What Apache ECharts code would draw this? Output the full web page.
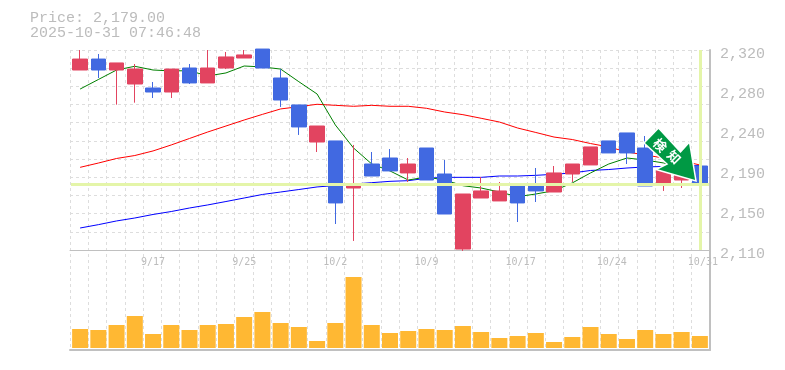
<!DOCTYPE html>
<html><head><meta charset="utf-8">
<style>html,body{margin:0;padding:0;background:#fff}#c{width:785px;height:370px}</style>
<script src="https://cdn.jsdelivr.net/npm/echarts@6/dist/echarts.min.js"></script>
</head><body><div id="c"></div>
<script>
const categories=['9/10','9/11','9/12','9/16','9/17','9/18','9/19','9/22','9/24','9/25','9/26','9/29','9/30','10/1','10/2','10/3','10/6','10/7','10/8','10/9','10/10','10/14','10/15','10/16','10/17','10/20','10/21','10/22','10/23','10/24','10/27','10/28','10/29','10/30','10/31'];
const opens=[2299,2310.5,2299,2284.3,2280.1,2275.9,2301.1,2285.4,2301.1,2311.6,2321,2290.6,2262.3,2223.4,2224.5,2175.1,2200.3,2206.6,2190.9,2217.1,2189.8,2111,2164.6,2161.5,2178.3,2177.2,2170.9,2189.8,2199.3,2224.5,2232.9,2217.1,2179.3,2183.5,2198.2];
const closes=[2310.5,2299,2306.4,2300,2275.9,2300,2285.4,2301.1,2312.7,2314.8,2301.1,2267.5,2239.2,2240.2,2159.4,2177.2,2187.7,2193,2200.3,2183.5,2147.8,2168.8,2172,2172,2159.4,2172,2190.9,2200.3,2218.2,2211.9,2211.9,2177.2,2194,2196.1,2179];
const lows=[2299,2290.6,2262.6,2264.7,2269.6,2269.6,2284.3,2285.4,2300,2311.6,2301.1,2260.2,2230.8,2212.9,2137.3,2119.5,2187.7,2193,2181.4,2183.5,2147.8,2109,2164.6,2161.5,2139.4,2160.4,2170.9,2181.4,2199.3,2211.9,2200.3,2177.2,2172,2175.1,2177.2];
const highs=[2320,2315.8,2306.4,2305.3,2286.4,2300,2305.3,2320,2317.9,2320,2321,2300,2262.3,2240.2,2224.5,2220.3,2212.9,2216,2206.6,2217.1,2204.5,2168.8,2186.6,2181.4,2178.3,2196.1,2198.2,2200.3,2218.2,2224.5,2232.9,2229.7,2197,2200,2198.2];
const maShort=[2279,2289,2299,2302.9,2299,2298,2298.3,2292.7,2295.9,2303.2,2302.2,2300,2286.7,2273.8,2241.3,2217.1,2200.3,2193,2183.5,2186.6,2183.5,2177.5,2175.1,2170.9,2166,2168.8,2172.3,2180.4,2190.9,2200.3,2206.6,2204.5,2201.4,2197.2,2191.9];
const maMid=[2196.8,2201.3,2206.1,2209.2,2214,2220.3,2227.1,2233.9,2240.2,2246.5,2252.4,2258.1,2260.5,2263,2261.9,2260.9,2261.9,2260.9,2260.9,2258.8,2254.9,2252.1,2248.3,2244.4,2238.1,2233.4,2228.6,2226,2221.8,2218.2,2212.9,2209.8,2206.6,2203.5,2199.3];
const maLong=[2133.1,2136.6,2140.5,2143.6,2147.3,2150.4,2154.1,2157.3,2160.9,2164.6,2168.3,2170.9,2173.5,2176.2,2177.7,2179.3,2180.7,2182.1,2182.8,2185.3,2186.3,2186.3,2186.3,2187.7,2187.7,2188.4,2189.5,2190.9,2193.5,2194.5,2196.1,2197.2,2197.7,2198.2,2198.7];
const volumes=[190,180,230,320,140,230,180,230,240,310,360,250,210,70,250,710,230,150,170,190,180,220,160,100,120,150,60,110,210,140,90,180,140,160,120];
const priceTicks=[2110,2152,2194,2236,2278,2320];
const priceTickLabels=['2,110','2,150','2,190','2,240','2,280','2,320'];
const currentPrice=2179;
const lastDate='10/31';
const headerText='Price: 2,179.00\n2025-10-31 07:46:48';
const signalText=['検','知'];

const gridC='#dddddd', axisC='#c0c0c0', textC='#bcbcbc', hiC='#e4f5a9';
const mono='"Liberation Mono", monospace';
const chart=echarts.init(document.getElementById('c'),null,{renderer:'canvas'});
const hidden={show:false};
const dashed={color:gridC,type:[3,3],width:1};
const ma=(data,color)=>({type:'line',data,xAxisIndex:0,yAxisIndex:0,symbol:'none',z:2,silent:true,
  lineStyle:{color,width:1},itemStyle:{color}});
chart.setOption({
  animation:false,
  backgroundColor:'#fff',
  title:{text:headerText,left:30,top:11,padding:0,textStyle:{fontFamily:mono,fontSize:15,fontWeight:'normal',color:textC,lineHeight:15}},
  grid:[
    {left:71,width:638,top:50,height:200},          // prices
    {left:71,width:638,top:250,height:100},         // volume
    {left:70,width:640,top:50,height:200},          // upper frame, horizontal rules
    {left:70,width:640,top:50,height:300}           // outer frame, vertical rules
  ],
  xAxis:[
    {type:'category',gridIndex:0,data:categories,boundaryGap:true,
     axisLine:hidden,axisTick:hidden,splitLine:hidden,
     axisLabel:{interval:(i)=>i%5===4,margin:7,fontFamily:'"DejaVu Sans Mono", monospace',fontSize:10,color:textC,
       formatter:(v)=>v.length===5?' '+v:v}},
    {type:'category',gridIndex:1,data:categories,boundaryGap:true,
     axisLine:hidden,axisTick:hidden,axisLabel:hidden,splitLine:hidden},
    {type:'value',gridIndex:2,min:0,max:1,axisTick:hidden,axisLabel:hidden,splitLine:hidden,
     axisLine:{show:true,onZero:false,lineStyle:{color:axisC,width:1}}},
    {type:'value',gridIndex:3,min:0,max:35,interval:1,axisTick:hidden,axisLabel:hidden,
     axisLine:{show:true,onZero:false,lineStyle:{color:axisC,width:2}},splitLine:{show:true,lineStyle:dashed}}
  ],
  yAxis:[
    {type:'value',gridIndex:0,position:'right',min:2110,max:2320,
     axisLine:hidden,axisTick:hidden,splitLine:hidden,
     axisLabel:{customValues:priceTicks,formatter:(v)=>priceTickLabels[priceTicks.indexOf(v)],margin:11,
       verticalAlign:'top',lineHeight:8,fontFamily:mono,fontSize:15,color:textC}},
    {type:'value',gridIndex:1,position:'right',min:-20,max:980,
     axisLine:hidden,axisTick:hidden,axisLabel:hidden,splitLine:hidden},
    {type:'value',gridIndex:2,position:'left',min:0,max:11,interval:1,
     axisLine:hidden,axisTick:hidden,axisLabel:hidden,splitLine:{show:true,lineStyle:dashed}},
    {type:'value',gridIndex:3,position:'right',min:0,max:1,axisTick:hidden,axisLabel:hidden,splitLine:hidden,
     axisLine:{show:true,onZero:false,lineStyle:{color:axisC,width:2}}}
  ],
  series:[
    {type:'line',data:[],xAxisIndex:0,yAxisIndex:0,z:1,silent:true,symbol:'none',
     markLine:{silent:true,symbol:'none',label:{show:false},animation:false,
       lineStyle:{color:hiC,width:3,type:'solid'},
       data:[{yAxis:currentPrice},{xAxis:lastDate}]}},
    ma(maLong,'#0000ff'),
    ma(maMid,'#ff0000'),
    ma(maShort,'#008000'),
    {type:'candlestick',xAxisIndex:0,yAxisIndex:0,z:3,clip:false,barWidth:15,silent:true,
     data:categories.map((_,i)=>[opens[i],closes[i],lows[i],highs[i]]),
     itemStyle:{color:'#e24460',color0:'#4169e1',borderColor:'#e24460',borderColor0:'#4169e1',borderWidth:1}},
    {type:'bar',xAxisIndex:1,yAxisIndex:1,data:volumes,barWidth:16,silent:true,z:3,itemStyle:{color:'#ffb833'}}
  ],
  graphic:[
    {type:'polygon',z:50,shape:{points:[[658.5,128],[644,143],[667,164],[656,169.5],[696,181],[689.5,142],[680.5,152]]},
     style:{fill:'#009944',stroke:'#ffffff',lineWidth:1.5}},
    {type:'text',z:51,x:660,y:145,rotation:-Math.PI/4,style:{text:signalText[0],fill:'#fff',font:'bold 13px "Noto Sans CJK JP"',align:'center',verticalAlign:'middle'}},
    {type:'text',z:51,x:674,y:157,rotation:-Math.PI/4,style:{text:signalText[1],fill:'#fff',font:'bold 13px "Noto Sans CJK JP"',align:'center',verticalAlign:'middle'}}
  ]
});
</script></body></html>
